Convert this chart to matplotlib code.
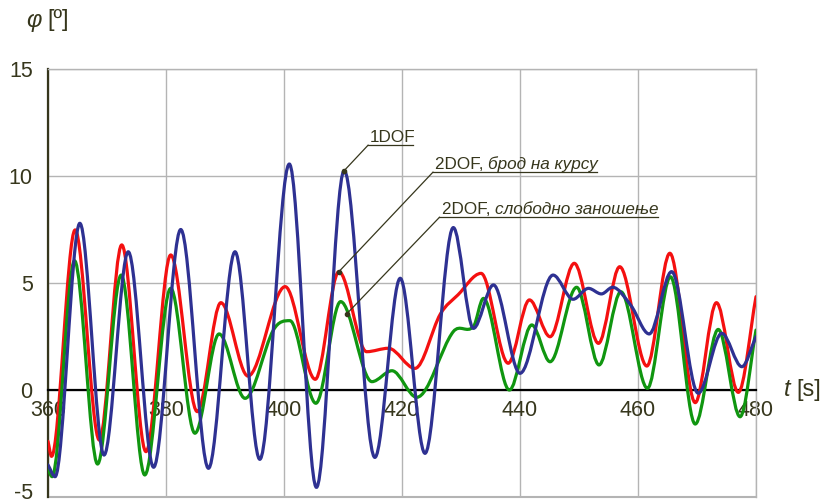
"""
roll_response.py
Roll angle time history, 1DOF vs 2DOF models (ship on course / free drift).
Outputs: out.png
"""
import numpy as np
import matplotlib.pyplot as plt
import matplotlib.transforms as mtransforms
from matplotlib.path import Path
from matplotlib.patches import PathPatch

plt.rcParams['font.family'] = ['Liberation Sans', 'DejaVu Sans']

# knots of each curve: time [s] and roll angle [deg] at turning points
t_1dof = [360.0, 361.2, 365.4, 369.5, 373.6, 377.9, 382.5, 387.2, 391.7, 395.9,
          400.9, 405.5, 410.2, 415.4, 419.7, 423.9, 428.7, 432.1, 435.5, 440.0,
          445.6, 449.0, 451.6, 453.8, 455.7, 458.8, 461.9, 465.7, 470.2, 474.2,
          477.6, 480.0]
phi_1dof = [-3.5, -4.05, 7.79, -3.04, 6.46, -3.61, 7.50, -3.66, 6.46, -3.24,
            10.56, -4.55, 10.25, -3.15, 5.22, -2.96, 7.59, 2.88, 4.91, 0.78,
            5.37, 4.24, 4.75, 4.49, 4.80, 3.95, 2.62, 5.53, -0.15, 2.65,
            1.09, 2.49]

t_course = [360.0, 360.6, 364.6, 368.7, 372.5, 376.6, 380.8, 385.3, 389.3, 393.9,
            400.2, 405.3, 409.3, 414.0, 417.7, 422.2, 426.5, 429.5, 433.4, 438.0,
            441.6, 445.1, 449.2, 453.3, 456.9, 461.5, 465.4, 469.7, 473.3, 477.0,
            480.0]
phi_course = [-2.4, -3.1, 7.48, -2.34, 6.78, -2.88, 6.31, -1.01, 4.08, 0.65,
              4.83, 0.50, 5.53, 1.79, 1.95, 1.01, 3.55, 4.45, 5.45, 1.25,
              4.21, 2.49, 5.92, 2.18, 5.76, 1.12, 6.39, -0.59, 4.08, -0.11,
              4.36]

t_drift = [360.0, 360.7, 364.5, 368.4, 372.4, 376.4, 380.8, 384.9, 389.0, 393.4,
           398.2, 401.0, 405.4, 409.6, 414.9, 418.3, 422.5, 428.7, 432.1, 433.8,
           438.2, 442.0, 445.1, 449.6, 453.4, 457.1, 461.6, 465.5, 469.7, 473.6,
           477.3, 480.0]
phi_drift = [-3.7, -4.05, 6.04, -3.46, 5.37, -3.97, 4.75, -2.02, 2.62, -0.39,
             2.80, 3.24, -0.62, 4.13, 0.39, 0.90, -0.34, 2.73, 2.96, 4.28,
             0.00, 3.04, 1.32, 4.80, 1.17, 4.59, 0.08, 5.29, -1.59, 2.83,
             -1.25, 2.80]

x_ticks = [360, 380, 400, 420, 440, 460, 480]
y_ticks = [-5, 0, 5, 10, 15]

txt_color = '#36361c'
grid_color = '#b4b4b4'


def smooth_path(t, y):
    # cubic Hermite segments as Bezier curves, flat at turning points
    t = np.asarray(t, float)
    y = np.asarray(y, float)
    n = len(t)
    m = np.zeros(n)
    for i in range(n):
        if i == 0:
            m[i] = (y[1] - y[0]) / (t[1] - t[0])
        elif i == n - 1:
            m[i] = (y[-1] - y[-2]) / (t[-1] - t[-2])
        elif (y[i] - y[i - 1]) * (y[i + 1] - y[i]) <= 0:
            m[i] = 0.0
        else:
            m[i] = (y[i + 1] - y[i - 1]) / (t[i + 1] - t[i - 1])
    verts = [(t[0], y[0])]
    codes = [Path.MOVETO]
    for i in range(n - 1):
        h = t[i + 1] - t[i]
        verts += [(t[i] + h / 3, y[i] + m[i] * h / 3),
                  (t[i + 1] - h / 3, y[i + 1] - m[i + 1] * h / 3),
                  (t[i + 1], y[i + 1])]
        codes += [Path.CURVE4] * 3
    return Path(verts, codes)


fig = plt.figure(figsize=(8.25, 5.04), dpi=100)
ax = fig.add_axes([48 / 825, 7 / 504, 708 / 825, 428 / 504])

ax.set_xlim(360, 480)
ax.set_ylim(-5, 15)
ax.set_xticks(x_ticks)
ax.set_yticks(y_ticks)
ax.set_xticklabels([str(v) for v in x_ticks])
ax.set_yticklabels([str(v) for v in y_ticks])
ax.tick_params(axis='both', length=0, labelsize=15.5, labelcolor=txt_color)
ax.tick_params(axis='x', pad=7)
ax.tick_params(axis='y', pad=11)
ax.grid(True, color=grid_color, lw=1)
ax.set_axisbelow(True)

# keep the lowest y label inside the figure
low = ax.get_yticklabels()[0]
low.set_transform(low.get_transform() +
                  mtransforms.ScaledTranslation(0, 4 / 72, fig.dpi_scale_trans))

ax.spines['bottom'].set_position(('data', 0))
ax.spines['bottom'].set_color('black')
ax.spines['bottom'].set_linewidth(1.6)
ax.spines['left'].set_color(txt_color)
ax.spines['left'].set_linewidth(1.6)
for side in ['top', 'right']:
    ax.spines[side].set_color(grid_color)
    ax.spines[side].set_linewidth(1)
ax.axhline(-5, color=grid_color, lw=1.5, clip_on=False)

series = [
    (t_course, phi_course, '#f41010'),
    (t_drift, phi_drift, '#109610'),
    (t_1dof, phi_1dof, '#2e3192'),
]
for t, phi, col in series:
    ax.add_patch(PathPatch(smooth_path(t, phi), fill=False, edgecolor=col,
                           lw=2.3, zorder=3, capstyle='round', joinstyle='round'))

# callouts with underline and leader line
lead_kw = dict(color=txt_color, lw=0.9, zorder=4)
i_pk = int(np.argmax(np.where(np.array(t_1dof) > 405, phi_1dof, -99)))
i_rc = t_course.index(409.3)
callouts = [
    ('1DOF', '', 414.6, 11.59, 421.9, (t_1dof[i_pk], phi_1dof[i_pk])),
    ('2DOF, ', 'брод на курсу', 425.6, 10.33, 453.1,
     (t_course[i_rc], phi_course[i_rc])),
    ('2DOF, ', 'слободно заношење', 426.7, 8.22, 463.4, (410.6, 3.55)),
]
for plain, ital, x0, y0, x1, target in callouts:
    tx = ax.text(x0, y0, plain, fontsize=12.3, color=txt_color,
                 ha='left', va='baseline', zorder=5)
    if ital:
        ax.annotate(ital, xy=(1, 0), xycoords=tx, fontsize=12.3,
                    style='italic', color=txt_color, ha='left', va='bottom',
                    zorder=5)
    yu = y0 - 0.15
    ax.plot([x0 - 0.35, x1], [yu, yu], **lead_kw)
    ax.plot([x0 - 0.35, target[0]], [yu, target[1]], **lead_kw)
    ax.plot([target[0]], [target[1]], 'o', ms=3, color=txt_color, zorder=5)

# axis names
fig.text(26 / 825, 1 - 20 / 504, 'φ', fontsize=17, style='italic',
         color=txt_color, ha='left', va='center')
fig.text(47 / 825, 1 - 20 / 504, '[º]', fontsize=17, color=txt_color,
         ha='left', va='center')
fig.text(784 / 825, 1 - 390 / 504, 't', fontsize=17, style='italic',
         color=txt_color, ha='left', va='center')
fig.text(796 / 825, 1 - 390 / 504, '[s]', fontsize=17, color=txt_color,
         ha='left', va='center')

fig.savefig('out.png', dpi=100)
plt.close(fig)
